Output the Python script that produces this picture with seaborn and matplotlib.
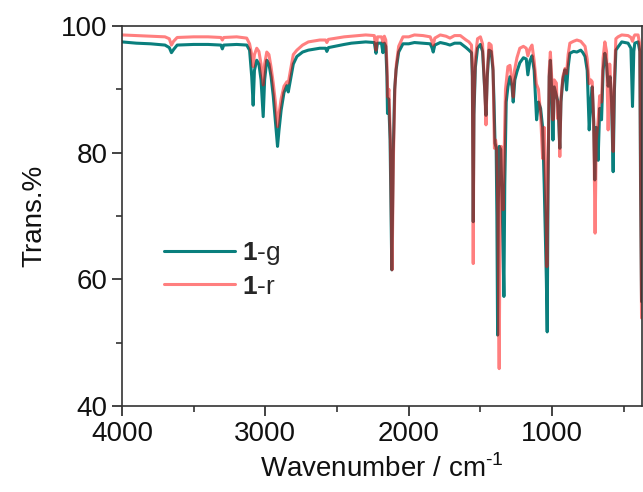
import pandas as pd
import matplotlib
matplotlib.use("Agg")
import matplotlib.pyplot as plt
import seaborn as sns
from matplotlib.ticker import MultipleLocator

# 1-g (teal), wavenumber / transmittance
wn_g = [4000, 3900, 3800, 3700, 3670, 3655, 3640, 3615, 3500, 3400, 3310, 3300, 3290, 3200, 3130,
        3110, 3095, 3085, 3076, 3060, 3045, 3030, 3015, 3005, 2990, 2975, 2960, 2945, 2930, 2915,
        2905, 2890, 2870, 2850, 2840, 2825, 2805, 2780, 2740, 2700, 2620, 2580, 2571, 2560, 2450,
        2400, 2300, 2240, 2228, 2218, 2190, 2180, 2170, 2160, 2152, 2148, 2140, 2130, 2118, 2108,
        2098, 2088, 2070, 2040, 2000, 1960, 1900, 1850, 1838, 1829, 1818, 1780, 1740, 1712, 1680,
        1640, 1600, 1580, 1562, 1556, 1550, 1545, 1535, 1520, 1500, 1485, 1470, 1461, 1452, 1440,
        1425, 1412, 1405, 1398, 1390, 1385, 1380, 1375, 1368, 1358, 1348, 1336, 1330, 1320, 1308,
        1294, 1280, 1271, 1260, 1245, 1225, 1200, 1180, 1169, 1155, 1140, 1125, 1108, 1095, 1080,
        1066, 1055, 1040, 1034, 1028, 1020, 1012, 1003, 994, 985, 970, 962, 954, 946, 938,
        925, 910, 899, 888, 876, 850, 827, 800, 785, 770, 755, 741, 730, 720, 710,
        702, 692, 679, 668, 655, 644, 632, 620, 609, 595, 585, 574, 565, 555, 540,
        514, 470, 450, 439, 430, 423, 400, 388, 383, 376]
tr_g = [97.5, 97.3, 97.2, 97.0, 96.6, 95.8, 96.3, 97.0, 97.1, 97.1, 97.0, 96.4, 97.0, 97.1, 97.0,
        96.2, 92.0, 87.5, 93.0, 94.6, 94.0, 91.5, 85.7, 91.5, 94.6, 94.0, 92.0, 89.0, 85.0, 81.0,
        83.5, 86.7, 89.5, 90.6, 89.6, 91.5, 94.0, 95.2, 95.9, 96.2, 96.5, 96.5, 96.0, 96.6, 97.1,
        97.3, 97.5, 97.4, 95.7, 97.3, 97.3, 95.8, 97.3, 96.8, 92.0, 86.2, 88.5, 82.0, 61.5, 80.0,
        90.0, 93.1, 95.9, 97.2, 97.2, 97.4, 97.3, 97.2, 96.6, 95.9, 97.0, 97.4, 97.2, 97.0, 97.3,
        97.3, 96.6, 96.2, 95.8, 92.0, 69.1, 86.0, 93.5, 96.5, 97.1, 96.0, 90.0, 85.9, 92.0, 96.2,
        96.0, 93.0, 88.0, 81.5, 80.8, 70.0, 51.2, 72.0, 81.0, 80.5, 72.0, 57.3, 75.0, 88.0, 90.4,
        92.0, 90.5, 88.0, 91.5, 92.8, 94.2, 95.0, 94.8, 92.3, 94.5, 95.3, 93.0, 85.2, 88.0, 87.0,
        84.0, 75.0, 60.0, 51.7, 75.0, 92.0, 94.6, 90.0, 82.0, 90.4, 89.0, 88.3, 85.0, 80.7, 88.0,
        91.5, 93.1, 89.9, 93.5, 95.7, 96.0, 95.9, 96.2, 95.8, 95.2, 93.0, 83.6, 88.0, 90.4, 85.0,
        75.7, 84.0, 78.8, 87.0, 85.2, 93.0, 95.7, 94.0, 90.5, 92.0, 88.0, 77.0, 90.0, 96.2, 96.7,
        97.5, 97.3, 96.5, 87.3, 96.0, 97.3, 97.5, 96.0, 75.0, 56.5]

# 1-r (pink)
wn_r = [4000, 3900, 3800, 3700, 3670, 3655, 3640, 3615, 3500, 3400, 3310, 3300, 3290, 3200, 3130,
        3110, 3095, 3085, 3076, 3060, 3045, 3030, 3015, 3005, 2990, 2975, 2960, 2945, 2930, 2915,
        2905, 2890, 2870, 2850, 2840, 2825, 2805, 2780, 2740, 2700, 2620, 2580, 2571, 2560, 2450,
        2400, 2300, 2240, 2228, 2218, 2190, 2180, 2170, 2160, 2152, 2146, 2138, 2128, 2116, 2106,
        2096, 2086, 2070, 2040, 2000, 1960, 1900, 1850, 1838, 1829, 1818, 1780, 1740, 1712, 1680,
        1640, 1600, 1580, 1562, 1556, 1550, 1545, 1535, 1520, 1500, 1485, 1470, 1461, 1452, 1440,
        1425, 1412, 1402, 1394, 1386, 1378, 1369, 1362, 1355, 1348, 1341, 1334, 1325, 1308, 1294,
        1280, 1271, 1262, 1245, 1225, 1200, 1180, 1169, 1155, 1140, 1125, 1110, 1095, 1080, 1066,
        1055, 1045, 1036, 1028, 1020, 1012, 1003, 994, 985, 970, 962, 955, 946, 938, 925,
        910, 899, 888, 876, 850, 827, 800, 785, 770, 755, 741, 730, 720, 710, 700,
        692, 679, 668, 655, 644, 632, 620, 609, 598, 585, 574, 565, 555, 540, 514,
        470, 450, 439, 430, 423, 400, 388, 383, 376]
tr_r = [98.6, 98.5, 98.4, 98.3, 98.0, 97.0, 97.6, 98.2, 98.3, 98.3, 98.2, 97.8, 98.2, 98.3, 98.1,
        97.2, 95.5, 93.6, 95.5, 96.5, 96.0, 94.0, 90.7, 94.0, 95.9, 95.5, 93.5, 91.0, 88.0, 84.1,
        86.0, 88.5, 90.5, 91.2, 91.0, 93.0, 95.5, 96.2, 97.0, 97.5, 97.8, 97.8, 97.4, 97.9, 98.3,
        98.4, 98.6, 98.5, 96.2, 98.3, 98.3, 97.5, 98.4, 97.8, 94.0, 88.8, 90.0, 82.0, 61.5, 80.0,
        90.5, 94.0, 96.8, 98.3, 98.3, 98.6, 98.5, 98.3, 97.6, 97.0, 98.1, 98.6, 98.4, 98.1, 98.5,
        98.5, 97.8, 97.5, 97.0, 93.0, 62.5, 87.0, 95.0, 98.0, 98.3, 97.2, 90.0, 84.4, 92.5, 97.3,
        97.0, 93.5, 80.7, 82.0, 80.5, 70.0, 45.9, 72.0, 81.0, 79.0, 71.0, 80.0, 90.0, 93.6, 93.8,
        91.5, 88.8, 93.0, 95.0, 96.5, 96.8, 96.5, 95.3, 96.4, 97.0, 94.5, 90.9, 90.0, 86.0, 79.1,
        84.0, 75.0, 62.0, 78.0, 93.0, 95.9, 92.0, 85.2, 91.5, 91.0, 85.4, 88.0, 79.4, 88.5, 92.0,
        93.3, 92.5, 95.5, 97.3, 97.6, 97.8, 97.6, 97.2, 96.8, 94.8, 90.9, 91.5, 91.2, 85.0, 67.3,
        82.0, 85.0, 89.0, 88.0, 95.0, 97.5, 96.0, 83.6, 94.0, 88.0, 80.2, 92.0, 98.0, 98.3, 98.6,
        98.5, 98.2, 97.6, 98.3, 98.6, 98.6, 97.0, 78.0, 53.9]

df_g = pd.DataFrame({"Wavenumber": wn_g, "Trans": tr_g})
df_r = pd.DataFrame({"Wavenumber": wn_r, "Trans": tr_r})

sns.set_style("ticks")
plt.rcParams["font.family"] = ["Liberation Sans", "DejaVu Sans"]
plt.rcParams["mathtext.fontset"] = "custom"
plt.rcParams["mathtext.rm"] = "Liberation Sans"
plt.rcParams["mathtext.bf"] = "Liberation Sans:bold"

fig = plt.figure(figsize=(6.43, 4.92), dpi=100)
ax = fig.add_axes([0.1897, 0.1748, 0.8087, 0.7722])

sns.lineplot(data=df_g, x="Wavenumber", y="Trans", ax=ax, color="#0a7f7d", lw=2.2,
             label=r"$\mathbf{1}$-g", estimator=None, sort=False)
sns.lineplot(data=df_r, x="Wavenumber", y="Trans", ax=ax, color="#ff0000", alpha=0.5, lw=2.2,
             label=r"$\mathbf{1}$-r", estimator=None, sort=False)

ax.set_xlim(4000, 373)
ax.set_ylim(40, 100)
ax.xaxis.set_major_locator(MultipleLocator(1000))
ax.xaxis.set_minor_locator(MultipleLocator(500))
ax.yaxis.set_major_locator(MultipleLocator(20))
ax.yaxis.set_minor_locator(MultipleLocator(10))
ax.tick_params(which="major", direction="out", length=7, width=1.2, labelsize=20,
               color="#222222", labelcolor="#111111")
ax.tick_params(which="minor", direction="out", length=4, width=1.1, color="#222222")
for s in ax.spines.values():
    s.set_linewidth(1.2)
    s.set_color("#333333")

ax.set_xlabel(r"Wavenumber / cm$^{\text{-}1}$", fontsize=20, labelpad=6, color="#111111")
ax.set_ylabel("Trans.%", fontsize=20, labelpad=10, color="#111111")

ax.legend(loc="center left", bbox_to_anchor=(0.035, 0.36), frameon=False, fontsize=19,
          handlelength=2.7, handletextpad=0.25, labelspacing=0.3)

fig.savefig("out.png", dpi=100)
